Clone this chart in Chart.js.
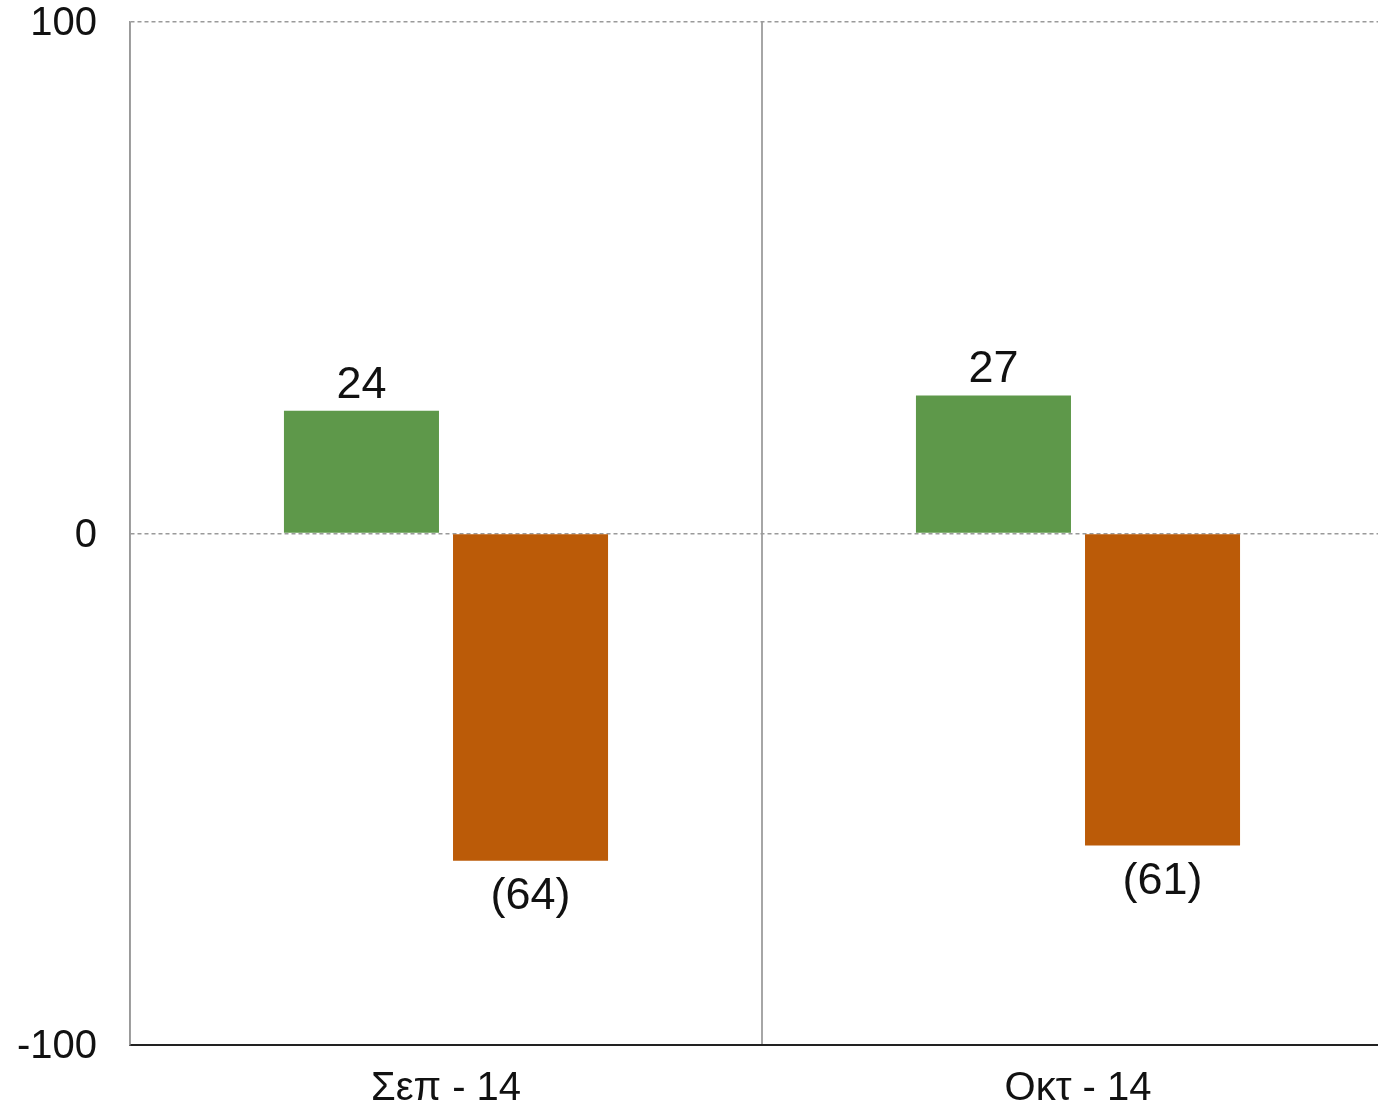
<!DOCTYPE html>
<html>
<head>
<meta charset="utf-8">
<script src="https://cdn.jsdelivr.net/npm/chart.js@4/dist/chart.umd.min.js"></script>
<style>
  html, body { margin: 0; padding: 0; background: #fff; overflow: hidden; width: 1378px; height: 1107px; }
  #wrap { position: absolute; left: 0; top: 0; width: 1394px; height: 1107px; }
</style>
</head>
<body>
<div id="wrap"><canvas id="c" width="1394" height="1107"></canvas></div>
<script>
const categories = ["Σεπ - 14", "Οκτ - 14"];
const positiveValues = [24, 27];
const negativeValues = [-64, -61];
const yTicks = [-100, 0, 100];

const FONT = "'Liberation Sans', Arial, sans-serif";

const valueLabels = {
  id: 'valueLabels',
  afterDatasetsDraw(chart) {
    const ctx = chart.ctx;
    ctx.save();
    ctx.font = '45px ' + FONT;
    ctx.fillStyle = '#111';
    ctx.textAlign = 'center';
    ctx.textBaseline = 'alphabetic';
    chart.data.datasets.forEach((ds, di) => {
      const meta = chart.getDatasetMeta(di);
      meta.data.forEach((bar, i) => {
        const v = ds.data[i];
        if (v >= 0) {
          ctx.fillText(String(v), bar.x, bar.y - 13);
        } else {
          ctx.fillText('(' + Math.abs(v) + ')', bar.x, bar.y + 48);
        }
      });
    });
    ctx.restore();
  }
};

new Chart(document.getElementById('c'), {
  type: 'bar',
  data: {
    labels: categories,
    datasets: [
      { data: positiveValues, backgroundColor: '#5e984a', categoryPercentage: 0.535, barPercentage: 0.917 },
      { data: negativeValues, backgroundColor: '#bb5b08', categoryPercentage: 0.535, barPercentage: 0.917 }
    ]
  },
  options: {
    responsive: false,
    animation: false,
    devicePixelRatio: 1,
    layout: { autoPadding: false, padding: { top: 22, right: 0, left: 0, bottom: 0 } },
    plugins: { legend: { display: false }, tooltip: { enabled: false } },
    scales: {
      x: {
        offset: true,
        grid: { offset: true, color: '#a6a6a6', lineWidth: 2, drawTicks: false },
        border: { color: '#222', width: 2 },
        ticks: { font: { family: FONT, size: 40 }, color: '#111', padding: 20, maxRotation: 0 },
        afterFit(s) { s.height = 62; s.paddingLeft = 0; s.paddingRight = 0; }
      },
      y: {
        min: -100, max: 100,
        afterBuildTicks(s) { s.ticks = yTicks.map(v => ({ value: v })); },
        grid: {
          drawTicks: false,
          lineWidth: 1.5,
          color: (c) => (c.tick && c.tick.value === -100) ? 'rgba(0,0,0,0)' : '#9a9a9a'
        },
        border: { color: '#999', width: 1.5, dash: [4, 3] },
        ticks: { font: { family: FONT, size: 40 }, color: '#111', padding: 33, labelOffset: 2 },
        afterFit(s) { s.width = 130; s.paddingTop = 0; s.paddingBottom = 0; }
      }
    }
  },
  plugins: [valueLabels]
});
</script>
</body>
</html>
